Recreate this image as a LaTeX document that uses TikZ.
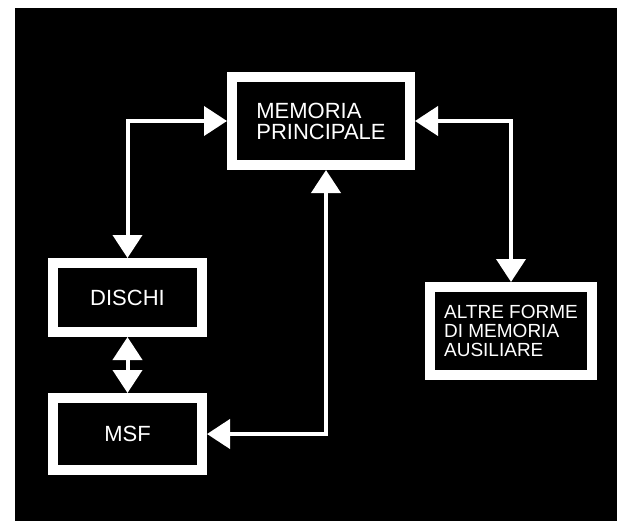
\documentclass[tikz,border=0pt]{standalone}
\usepackage{fontspec}
\setmainfont{Liberation Sans}
\usetikzlibrary{arrows.meta,positioning}
\tikzset{
  memblock/.style={rectangle,draw=white,fill=black,line width=10pt,
    outer sep=5pt,inner sep=0pt,text=white,align=left,
    font=\fontsize{22}{21}\selectfont},
  smallfont/.style={font=\fontsize{19}{19}\selectfont},
  % white connectors with a solid head at both ends
  arr/.style={{Triangle[width=29pt,length=23pt]}-{Triangle[width=29pt,length=23pt]},
    white,line width=4pt}
}
\begin{document}
\begin{tikzpicture}[x=1pt,y=-1pt]
  \useasboundingbox (0,0) rectangle (617,522);
  \fill[black] (15,8) rectangle (617,521);
  % memory blocks
  \node[memblock,minimum width=178pt,minimum height=88pt] (mem) at (321,121)
    {MEMORIA\\PRINCIPALE};
  \node[memblock,minimum width=149pt,minimum height=69pt] (dis) at (127.5,297.5)
    {DISCHI};
  \node[memblock,minimum width=149pt,minimum height=72pt] (msf) at (127.5,434)
    {MSF};
  \node[memblock,smallfont,minimum width=162pt,minimum height=88pt] (alt) at (511,331)
    {ALTRE FORME\\DI MEMORIA\\AUSILIARE};
  % transfers
  \draw[arr] (mem.west) -| (dis.north);
  \draw[arr] (mem.east) -| (alt.north);
  \draw[arr] (msf.east) -| ([xshift=5pt]mem.south);
  \draw[arr] (dis.south) -- (msf.north);
\end{tikzpicture}
\end{document}
